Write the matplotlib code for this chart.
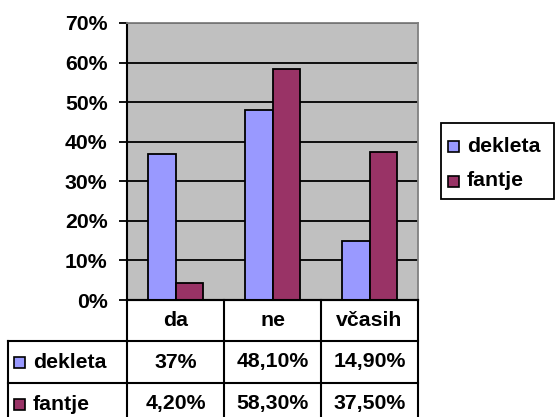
import matplotlib
matplotlib.use("Agg")
import matplotlib.pyplot as plt
import numpy as np
from matplotlib.transforms import blended_transform_factory
from matplotlib.lines import Line2D
from matplotlib.patches import Rectangle

categories = ["da", "ne", "včasih"]
series_names = ["dekleta", "fantje"]
dekleta = [37.0, 48.1, 14.9]
fantje = [4.2, 58.3, 37.5]
dekleta_labels = ["37%", "48,10%", "14,90%"]
fantje_labels = ["4,20%", "58,30%", "37,50%"]
yticks = [0, 10, 20, 30, 40, 50, 60, 70]
ytick_labels = ["0%", "10%", "20%", "30%", "40%", "50%", "60%", "70%"]
colors = ["#9999FF", "#993366"]

plt.rcParams['font.family'] = ['Liberation Sans', 'DejaVu Sans']
FS = 15.3

W, H = 555, 417
fig = plt.figure(figsize=(W / 100, H / 100), dpi=100)
fig.patch.set_facecolor("white")

L, R, T, B = 127, 418, 23, 300
ax = fig.add_axes([L / W, 1 - B / H, (R - L) / W, (B - T) / H])
ax.set_facecolor("#C0C0C0")

x = np.arange(len(categories))
bw = 0.286
for i, (vals, c) in enumerate(zip([dekleta, fantje], colors)):
    ax.bar(x + (i - 0.5) * bw, vals, width=bw, color=c, edgecolor="black",
           linewidth=1.3, zorder=3)

ax.set_xlim(-0.5, 2.5)
ax.set_ylim(0, 70)
ax.set_yticks(yticks)
ax.set_yticklabels(ytick_labels, fontsize=FS, fontweight="bold")
ax.set_xticks([])
ax.yaxis.grid(True, color="black", linewidth=1.3, zorder=1)
ax.set_axisbelow(True)
ax.tick_params(axis="y", length=6, width=1.3, direction="out", pad=8)
for s in ["top", "right"]:
    ax.spines[s].set_color("#808080")
    ax.spines[s].set_linewidth(1.3)
for s in ["left", "bottom"]:
    ax.spines[s].set_color("black")
    ax.spines[s].set_linewidth(1.5)

# data table below the plot (x in data coordinates, y in figure pixels)
tr = blended_transform_factory(ax.transData, fig.transFigure)
def fy(p):
    return 1 - p / H

lw = 1.5
rows = [300, 341, 383, 425]
for yp in rows[:3]:
    fig.add_artist(Line2D([-0.5, 2.5], [fy(yp), fy(yp)], transform=tr,
                          color="black", linewidth=lw, clip_on=False))
for xv in [-0.5, 0.5, 1.5, 2.5]:
    fig.add_artist(Line2D([xv, xv], [fy(300), fy(425)], transform=tr,
                          color="black", linewidth=lw, clip_on=False))
fig.add_artist(Line2D([8 / W, L / W], [fy(341), fy(341)], transform=fig.transFigure,
                      color="black", linewidth=lw))
fig.add_artist(Line2D([8 / W, L / W], [fy(383), fy(383)], transform=fig.transFigure,
                      color="black", linewidth=lw))
fig.add_artist(Line2D([8 / W, 8 / W], [fy(341), fy(425)], transform=fig.transFigure,
                      color="black", linewidth=lw))

for i, cat in enumerate(categories):
    fig.text(i, fy(321), cat, transform=tr, ha="center", va="center",
             fontsize=FS, fontweight="bold")
    fig.text(i, fy(362), dekleta_labels[i], transform=tr, ha="center", va="center",
             fontsize=FS, fontweight="bold")
    fig.text(i, fy(404), fantje_labels[i], transform=tr, ha="center", va="center",
             fontsize=FS, fontweight="bold")

sq = 11
for name, c, yc in zip(series_names, colors, [362, 404]):
    fig.add_artist(Rectangle((14 / W, fy(yc + sq / 2)), sq / W, sq / H,
                             transform=fig.transFigure, facecolor=c,
                             edgecolor="black", linewidth=1.2))
    fig.text(33 / W, fy(yc), name, ha="left", va="center",
             fontsize=FS, fontweight="bold")

# legend
fig.add_artist(Rectangle((441 / W, fy(199)), (554 - 441) / W, (199 - 123) / H,
                         transform=fig.transFigure, facecolor="white",
                         edgecolor="black", linewidth=1.3))
for name, c, yc in zip(series_names, colors, [146, 181]):
    fig.add_artist(Rectangle((448 / W, fy(yc + sq / 2)), sq / W, sq / H,
                             transform=fig.transFigure, facecolor=c,
                             edgecolor="black", linewidth=1.2))
    fig.text(467 / W, fy(yc), name, ha="left", va="center",
             fontsize=FS, fontweight="bold")

fig.savefig("out.png", dpi=100)
